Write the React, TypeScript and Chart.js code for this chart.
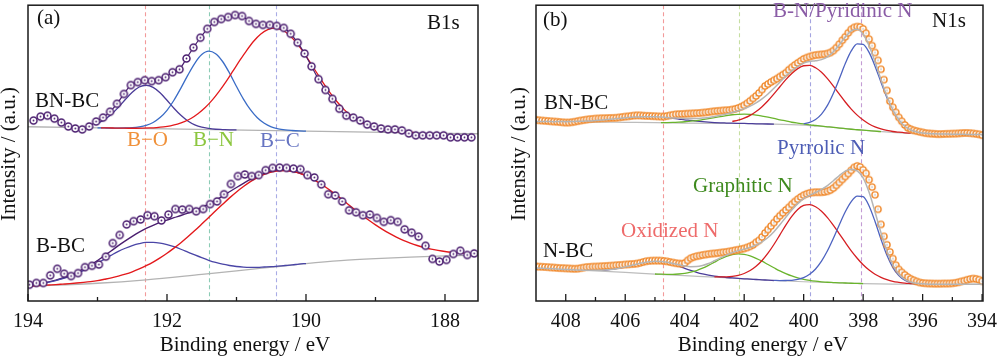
import React, { useEffect, useRef } from "react";
import { Chart, registerables } from "chart.js";

Chart.register(...registerables);

// ================= Panel (a): B1s =================
// BN-BC measured points (energies 0.1 eV apart, starting at aBnbcStart)
const aBnbcStart = 193.92;
const aBnbcStep = 0.1;
const aBnbcCounts = [183, 187, 188, 185, 181, 177, 175, 174, 177, 182, 186, 192, 200, 210, 219, 222, 224, 223, 224, 227, 232, 235, 246, 257, 267, 276, 283, 286, 288, 290, 289, 284, 281, 280, 280, 279, 277, 271, 262, 251, 238, 225, 214, 205, 195, 188, 186, 183, 179, 177, 175, 174, 174, 173, 170, 168, 168, 168, 168, 168, 166, 166, 166, 166];
const aBnbcBaseE = [194, 192, 190, 188, 187.5];
const aBnbcBaseI = [176.7, 174.5, 172.3, 170.1, 169.6];
const aBnbcBOStart = 193.0;
const aBnbcBO = [180.2, 183.9, 189.4, 196.4, 204.3, 211.7, 217.0, 218.8, 216.7, 211.2, 203.6, 195.5, 188.3, 182.6, 178.7, 176.3, 175.0, 174.2, 173.9, 173.6, 173.5];
const aBnbcBNStart = 193.0;
const aBnbcBN = [175.6, 175.5, 175.4, 175.4, 175.5, 175.8, 176.6, 178.1, 181.0, 186.0, 193.4, 203.6, 215.9, 229.1, 241.1, 249.9, 253.4, 250.8, 242.9, 231.1, 217.6, 204.8, 194.0, 185.8, 180.2, 176.6, 174.6, 173.5, 172.9, 172.5, 172.3];
const aBnbcBCStart = 192.95;
const aBnbcBC = [175.5, 175.5, 175.4, 175.3, 175.2, 175.2, 175.3, 175.5, 175.9, 176.6, 177.7, 179.4, 181.9, 185.4, 190.2, 196.2, 203.7, 212.6, 222.5, 233.3, 244.2, 254.5, 263.7, 270.8, 275.3, 276.8, 275.1, 270.4, 263.1, 253.7, 243.1, 232.0, 221.0, 210.9, 201.8, 194.1, 187.8, 182.8, 179.1, 176.4, 174.5, 173.1, 172.2, 171.6, 171.2, 170.9];

// B-BC measured points
const aBbcStart = 193.98;
const aBbcStep = 0.1;
const aBbcCounts = [16.5, 18.3, 18.3, 26, 32.7, 27.7, 25.3, 28.3, 34.3, 35.7, 37, 45, 58.7, 67, 77.7, 81, 82.7, 87, 86, 81.7, 87.7, 93.3, 92.7, 93.3, 91, 93.3, 98.3, 101, 108.3, 118.7, 126.7, 128.3, 126.7, 127.7, 132.7, 135, 135.3, 135, 134.3, 133.7, 127.7, 125.3, 118.3, 108.3, 107, 101, 92, 90, 87, 87.7, 84.3, 80.3, 82, 80.3, 72.7, 69.3, 65.3, 56, 42.7, 40, 41.7, 47.7, 51, 46.7, 48.3];
const aBbcBaseE = [194, 193, 192.3, 191.5, 191, 190.4, 190, 189.5, 189, 188.5, 188, 187.5];
const aBbcBaseI = [15, 18, 21.5, 27, 30.5, 35, 38, 41, 43, 44.5, 45.7, 46.6];
const aBbcEnvStart = 194.0;
const aBbcEnv = [16.1, 17.0, 18.0, 19.4, 21.1, 23.3, 25.8, 28.9, 32.5, 36.6, 41.1, 46.0, 51.0, 56.1, 60.9, 65.5, 69.8, 73.6, 76.8, 79.7, 82.1, 84.5, 86.7, 89.1, 91.8, 94.9, 98.3, 102.2, 106.3, 110.8, 115.1, 119.3, 123.3, 126.7, 129.5, 131.3, 132.4, 132.5, 131.6, 129.9, 127.1];
const aBbcBOStart = 194.0;
const aBbcBO = [16.0, 16.8, 17.8, 19.1, 20.7, 22.7, 25.0, 27.8, 31.0, 34.6, 38.4, 42.5, 46.5, 50.3, 53.5, 56.2, 58.2, 59.4, 59.5, 58.8, 57.2, 55.1, 52.5, 49.6, 46.7, 43.9, 41.3, 39.1, 37.3, 36.0, 35.0, 34.4, 34.2, 34.2, 34.5, 34.8, 35.4, 36.0, 36.6, 37.4, 38.0];
const aBbcBCStart = 194.0;
const aBbcBC = [15.1, 15.5, 15.8, 16.2, 16.6, 17.1, 17.6, 18.2, 18.9, 19.7, 20.7, 22.0, 23.4, 25.2, 27.2, 29.6, 32.5, 35.8, 39.5, 43.8, 48.4, 53.6, 59.1, 65.1, 71.4, 78.0, 84.7, 91.5, 98.1, 104.6, 110.6, 116.1, 121.1, 125.2, 128.5, 130.7, 132.0, 132.3, 131.5, 129.8, 127.1, 123.5, 119.3, 114.6, 109.4, 104.1, 98.4, 92.8, 87.3, 82.1, 77.2, 72.7, 68.5, 64.8, 61.5, 58.7, 56.3, 54.3, 52.6, 51.3, 50.2, 49.4, 48.8, 48.3, 48.0];

const aTicksMajor = [194, 192, 190, 188];
const aTicksMinor = [193, 191, 189];
const aMarkerE = [192.32, 191.4, 190.43];

// ================= Panel (b): N1s =================
const bStart = 409.0;
const bStep = 0.1;
const bBnbcCounts = [183.7, 183.3, 183.0, 182.8, 182.5, 182.3, 182.0, 181.8, 181.5, 181.2, 181.0, 181.0, 181.3, 181.8, 182.4, 183.0, 183.5, 184.0, 184.4, 184.7, 185.0, 185.1, 185.3, 185.4, 185.5, 185.6, 185.7, 185.8, 186.2, 186.6, 187.0, 187.3, 187.7, 188.1, 188.3, 188.2, 188.0, 187.8, 187.7, 187.5, 187.4, 187.2, 187.1, 187.1, 187.5, 188.2, 188.8, 189.3, 189.5, 189.6, 189.8, 190.0, 190.1, 190.3, 190.5, 190.7, 191.0, 191.3, 191.7, 192.1, 192.5, 192.8, 193.0, 193.3, 193.5, 193.7, 194.2, 194.8, 195.8, 197.0, 198.5, 200.5, 203.0, 205.5, 208.0, 211.0, 214.5, 218.0, 220.0, 222.0, 223.8, 225.5, 227.5, 229.5, 231.5, 234.5, 237.0, 239.3, 241.5, 243.5, 245.5, 246.8, 247.8, 248.8, 249.4, 249.8, 250.1, 250.3, 251.0, 252.0, 254.0, 257.0, 260.5, 264.5, 268.0, 272.0, 275.5, 277.5, 278.3, 278.0, 276.0, 271.5, 265.5, 259.0, 252.0, 244.0, 235.0, 224.5, 213.5, 202.7, 196.5, 191.3, 186.2, 182.3, 178.5, 175.7, 174.2, 173.1, 172.3, 171.6, 171.0, 170.3, 170.0, 169.7, 169.5, 169.3, 169.3, 169.4, 169.5, 169.6, 169.7, 169.8, 170.0, 170.2, 170.4, 170.4, 170.2, 169.9, 169.5, 169.0, 168.2];
const bNbcCounts = [35.0, 34.8, 34.7, 34.5, 34.3, 34.1, 33.9, 33.6, 33.4, 33.3, 33.1, 33.0, 32.8, 32.7, 32.8, 33.3, 33.9, 34.4, 34.6, 34.8, 34.9, 35.0, 35.2, 35.4, 35.6, 35.8, 36.0, 36.3, 36.5, 36.7, 37.0, 37.2, 37.4, 37.6, 38.0, 38.7, 39.5, 40.3, 40.7, 40.9, 41.0, 41.0, 40.9, 40.6, 40.2, 39.6, 39.0, 38.4, 38.0, 37.8, 38.5, 41.2, 43.3, 44.5, 45.4, 46.0, 46.6, 47.1, 47.6, 48.0, 48.3, 48.6, 49.0, 49.4, 49.8, 50.3, 50.9, 51.5, 52.0, 52.6, 53.3, 54.3, 55.5, 57.0, 59.5, 61.5, 65.0, 69.0, 72.5, 76.0, 79.5, 83.3, 86.5, 89.5, 92.3, 95.0, 98.0, 100.8, 103.3, 105.5, 107.3, 108.7, 109.6, 110.1, 110.3, 110.3, 110.3, 110.6, 111.3, 112.5, 114.5, 117.3, 120.3, 123.3, 126.3, 129.3, 132.5, 135.5, 137.0, 136.0, 133.0, 129.5, 123.0, 115.5, 107.7, 93.0, 77.7, 65.5, 57.0, 49.8, 43.0, 36.3, 32.0, 29.0, 26.5, 24.2, 22.5, 21.0, 19.8, 18.8, 18.2, 18.0, 17.8, 17.7, 17.6, 17.6, 17.6, 17.7, 17.7, 17.8, 18.0, 18.4, 19.0, 19.8, 20.6, 21.5, 22.3, 22.7, 22.4, 21.6, 20.0];

const bFitStep = 0.2;
// BN-BC fit
const bTopBaseE = [409, 408, 407, 406, 405, 404, 403, 402, 401, 400, 399.5, 399, 398.5, 398, 397.5, 397, 396.5, 396, 395, 394];
const bTopBaseI = [182.0, 181.7, 181.5, 181.2, 180.9, 180.5, 180.2, 180.0, 179.4, 178.3, 177.3, 176.0, 174.5, 173.2, 172.0, 171.0, 170.2, 169.7, 169.2, 168.8];
const bTopOxStart = 408.6;
const bTopOx = [181.9, 181.9, 181.9, 181.9, 182.1, 182.2, 182.4, 182.6, 183.1, 183.5, 184.1, 184.6, 185.2, 185.8, 186.3, 186.6, 186.9, 186.9, 186.8, 186.4, 185.9, 185.2, 184.6, 183.8, 183.2, 182.5, 181.9, 181.4, 181.0, 180.7, 180.5, 180.3, 180.2, 180.1, 179.9, 179.7, 179.6, 179.5, 179.4];
const bTopGrStart = 404.8;
const bTopGr = [181.0, 181.0, 181.1, 181.4, 181.8, 182.4, 183.0, 183.9, 184.9, 186.0, 187.0, 188.0, 188.9, 189.3, 189.5, 189.2, 188.5, 187.5, 186.4, 185.2, 183.8, 182.6, 181.3, 180.4, 179.6, 178.7, 178.0, 177.3, 176.7, 176.1, 175.4, 174.8, 174.2, 173.7, 173.2, 172.7, 172.2, 171.8];
const bTopRedStart = 402.4;
const bTopRed = [182.2, 183.4, 185.5, 188.3, 192.1, 197.1, 203.1, 210.0, 217.3, 224.5, 230.8, 235.7, 238.6, 238.9, 236.5, 231.9, 225.5, 217.9, 209.8, 201.8, 194.6, 188.5, 183.5, 179.5, 176.6, 174.5, 173.0, 171.9, 171.2, 170.6, 170.2];
const bTopBlueStart = 400.0;
const bTopBlue = [179.7, 181.1, 184.1, 189.6, 198.4, 210.7, 225.5, 240.8, 253.6, 260.7, 260.2, 252.1, 238.2, 221.9, 206.1, 192.9, 183.3, 177.0, 173.3, 171.3, 170.3];
const bTopEnvStart = 409.0;
const bTopEnv = [182.0, 182.0, 182.0, 181.9, 182.0, 181.9, 182.1, 182.2, 182.4, 182.6, 183.1, 183.5, 184.1, 184.6, 185.2, 185.8, 186.3, 186.6, 186.9, 186.9, 186.9, 186.6, 186.2, 185.7, 185.4, 185.1, 185.1, 185.1, 185.5, 186.0, 187.1, 188.3, 189.6, 191.2, 192.9, 195.1, 197.6, 200.9, 205.0, 210.0, 215.8, 221.9, 228.1, 233.4, 237.6, 241.3, 242.9, 243.6, 244.8, 247.6, 252.7, 259.9, 267.8, 274.0, 275.5, 270.5, 258.9, 242.6, 224.6, 207.7, 193.8, 183.8, 177.2, 173.4, 171.3, 170.3, 169.8, 169.5, 169.4, 169.3, 169.2, 169.1, 169.0, 168.9, 168.9, 168.8];
// N-BC fit
const bBotBaseE = [409, 408, 407, 406, 405, 404, 403, 402, 401, 400, 399, 398, 397, 396, 395, 394];
const bBotBaseI = [33.5, 32.0, 30.5, 29.0, 27.3, 25.7, 24.2, 22.5, 20.8, 19.5, 18.5, 17.7, 17.2, 17.0, 17.0, 17.0];
const bBotOxStart = 408.0;
const bBotOx = [32.0, 31.7, 31.5, 31.3, 31.1, 31.1, 31.3, 31.7, 32.3, 33.3, 34.6, 36.1, 37.6, 38.9, 39.8, 40.2, 39.9, 38.9, 37.2, 35.3, 33.1, 31.0, 29.1, 27.5, 26.3, 25.3, 24.5, 23.8, 23.4, 22.9, 22.5, 22.2, 21.8, 21.5, 21.1, 20.8];
const bBotGrStart = 405.0;
const bBotGr = [27.4, 27.2, 27.1, 27.1, 27.4, 28.0, 29.2, 30.9, 33.3, 36.2, 39.4, 42.6, 45.2, 47.1, 47.8, 47.2, 45.7, 43.3, 40.4, 37.0, 33.7, 30.5, 27.8, 25.4, 23.5, 22.0, 20.9, 20.1, 19.5, 19.0, 18.7, 18.4, 18.25, 18.0, 17.9, 17.7];
const bBotRedStart = 403.0;
const bBotRed = [24.5, 24.4, 24.5, 25.0, 26.0, 27.9, 30.9, 35.2, 41.1, 48.5, 57.3, 67.1, 77.0, 85.9, 92.9, 97.0, 97.8, 95.6, 91.1, 84.6, 76.7, 68.1, 59.4, 50.9, 43.4, 36.8, 31.4, 27.2, 24.0, 21.6, 19.9, 18.9, 18.1, 17.7, 17.3, 17.2];
const bBotBlueStart = 401.0;
const bBotBlue = [20.9, 20.7, 20.8, 21.0, 22.0, 23.8, 27.1, 32.5, 40.4, 50.9, 63.6, 77.4, 90.5, 100.8, 106.4, 105.8, 96.4, 80.6, 62.6, 46.3, 33.8, 25.7, 21.0, 18.7, 17.6, 17.2, 17.1];
const bBotEnvStart = 409.0;
const bBotEnv = [33.5, 33.2, 32.9, 32.6, 32.3, 32.0, 31.7, 31.5, 31.3, 31.1, 31.1, 31.3, 31.7, 32.3, 33.3, 34.6, 36.1, 37.6, 38.9, 39.8, 40.3, 40.1, 39.3, 38.0, 36.7, 35.4, 34.8, 34.9, 36.0, 38.0, 40.8, 43.7, 46.5, 49.1, 51.1, 52.6, 54.4, 56.7, 60.0, 64.4, 70.3, 77.3, 85.0, 92.3, 98.8, 103.8, 107.2, 110.0, 113.2, 117.1, 122.0, 127.3, 131.7, 133.7, 131.9, 124.9, 110.2, 90.3, 69.2, 50.6, 36.5, 27.4, 22.0, 19.3, 17.9, 17.4, 17.1, 17.0, 17.0, 17.0, 17.0, 17.0, 17.0, 17.0, 17.0, 17.0];

const bTicksMajor = [408, 406, 404, 402, 400, 398, 396, 394];
const bTicksMinor = [407, 405, 403, 401, 399, 397, 395];
const bMarkerE = [404.72, 402.16, 399.8, 398.07];

// ================= helpers =================
const SERIF = '"Liberation Serif", "Times New Roman", Times, serif';

const grid = (start: number, step: number, n: number) =>
  Array.from({ length: n }, (_, i) => +(start - step * i).toFixed(3));

const pts = (xs: number[], ys: number[]) => xs.map((x, i) => ({ x, y: ys[i] }));

function ring(size: number, r: number, stroke: string, lw: number, dot: string, dotR: number) {
  const c = document.createElement("canvas");
  c.width = size;
  c.height = size;
  const g = c.getContext("2d")!;
  g.beginPath();
  g.arc(size / 2, size / 2, r, 0, Math.PI * 2);
  g.fillStyle = "#fff";
  g.fill();
  g.lineWidth = lw;
  g.strokeStyle = stroke;
  g.stroke();
  g.beginPath();
  g.arc(size / 2, size / 2, dotR, 0, Math.PI * 2);
  g.fillStyle = dot;
  g.fill();
  return c;
}

function curve(xs: number[], ys: number[], color: string, width: number, order: number) {
  return {
    data: pts(xs, ys),
    borderColor: color,
    borderWidth: width,
    pointRadius: 0,
    pointHoverRadius: 0,
    fill: false,
    cubicInterpolationMode: "monotone",
    order,
  };
}

function marks(xs: number[], ys: number[], img: any, lineColor: string | null, order: number) {
  return {
    data: pts(xs, ys),
    showLine: !!lineColor,
    borderColor: lineColor || "rgba(0,0,0,0)",
    borderWidth: 1.2,
    pointStyle: img,
    pointRadius: 4,
    pointHoverRadius: 4,
    cubicInterpolationMode: "monotone",
    fill: false,
    order,
  };
}

type Txt = { text: string; x: number; y: number; color: string };
type Decor = {
  majors: number[];
  minors: number[];
  markers: { e: number; color: string }[];
  texts: Txt[];
  xTitleX: number;
  yTitleX: number;
};

function decor(d: Decor) {
  return {
    id: "decor",
    beforeDatasetsDraw(chart: any) {
      const { ctx, chartArea: a, scales } = chart;
      ctx.save();
      ctx.lineWidth = 1.1;
      ctx.setLineDash([4, 3]);
      for (const m of d.markers) {
        const px = Math.round(scales.x.getPixelForValue(m.e)) + 0.5;
        ctx.strokeStyle = m.color;
        ctx.beginPath();
        ctx.moveTo(px, a.top);
        ctx.lineTo(px, a.bottom);
        ctx.stroke();
      }
      ctx.restore();
    },
    afterDraw(chart: any) {
      const { ctx, chartArea: a, scales } = chart;
      const x = scales.x;
      ctx.save();
      ctx.setLineDash([]);
      ctx.strokeStyle = "#1a1a1a";
      ctx.lineWidth = 1.5;
      ctx.strokeRect(a.left, a.top, a.right - a.left, a.bottom - a.top);
      ctx.lineWidth = 1.3;
      for (const t of d.majors) {
        const px = x.getPixelForValue(t);
        ctx.beginPath();
        ctx.moveTo(px, a.bottom);
        ctx.lineTo(px, a.bottom - 7);
        ctx.stroke();
      }
      for (const t of d.minors) {
        const px = x.getPixelForValue(t);
        ctx.beginPath();
        ctx.moveTo(px, a.bottom);
        ctx.lineTo(px, a.bottom - 4);
        ctx.stroke();
      }
      ctx.fillStyle = "#111";
      ctx.textAlign = "center";
      ctx.textBaseline = "alphabetic";
      ctx.font = `20px ${SERIF}`;
      for (const t of d.majors) ctx.fillText(String(t), x.getPixelForValue(t), 327);
      ctx.font = `21px ${SERIF}`;
      ctx.fillText("Binding energy / eV", d.xTitleX, 351);
      ctx.save();
      ctx.translate(d.yTitleX, 154);
      ctx.rotate(-Math.PI / 2);
      ctx.fillText("Intensity / (a.u.)", 0, 0);
      ctx.restore();
      ctx.textAlign = "left";
      for (const t of d.texts) {
        ctx.fillStyle = t.color;
        ctx.fillText(t.text, t.x, t.y);
      }
      ctx.restore();
    },
  };
}

function baseOptions(min: number, max: number, padding: any) {
  return {
    responsive: false,
    animation: false,
    events: [],
    layout: { padding },
    plugins: { legend: { display: false }, tooltip: { enabled: false } },
    scales: {
      x: { type: "linear", reverse: true, min, max, display: false },
      y: { type: "linear", min: 0, max: 300, display: false },
    },
  };
}

export default function App() {
  const refA = useRef<HTMLCanvasElement>(null);
  const refB = useRef<HTMLCanvasElement>(null);

  useEffect(() => {
    const purple = "#4b1f70";
    const ringA = ring(11, 3.5, purple, 1.5, purple, 0.9);
    const ringB = ring(10, 3.1, "#f0882a", 1.4, "#b0b0b0", 0.8);

    const chartA = new Chart(refA.current!, {
      type: "line",
      data: {
        datasets: [
          marks(grid(aBnbcStart, aBnbcStep, aBnbcCounts.length), aBnbcCounts, ringA, purple, 0),
          marks(grid(aBbcStart, aBbcStep, aBbcCounts.length), aBbcCounts, ringA, null, 0),
          curve(grid(aBnbcBCStart, 0.1, aBnbcBC.length), aBnbcBC, "#e3191c", 1.3, 1),
          curve(grid(aBnbcBNStart, 0.1, aBnbcBN.length), aBnbcBN, "#3a6cc6", 1.3, 1),
          curve(grid(aBnbcBOStart, 0.1, aBnbcBO.length), aBnbcBO, "#4b3b98", 1.3, 1),
          curve(grid(aBbcBCStart, 0.1, aBbcBC.length), aBbcBC, "#e3191c", 1.4, 1),
          curve(grid(aBbcBOStart, 0.1, aBbcBO.length), aBbcBO, "#4a45a6", 1.3, 1),
          curve(grid(aBbcEnvStart, 0.1, aBbcEnv.length), aBbcEnv, purple, 1.4, 2),
          curve(aBnbcBaseE, aBnbcBaseI, "#b3b3b3", 1.3, 3),
          curve(aBbcBaseE, aBbcBaseI, "#b3b3b3", 1.3, 3),
        ],
      } as any,
      options: baseOptions(187.525, 194, { left: 28, right: 22, top: 1, bottom: 55 }) as any,
      plugins: [
        decor({
          majors: aTicksMajor,
          minors: aTicksMinor,
          markers: [
            { e: aMarkerE[0], color: "#f29a9a" },
            { e: aMarkerE[1], color: "#8ccbb5" },
            { e: aMarkerE[2], color: "#a9ace6" },
          ],
          texts: [
            { text: "(a)", x: 37, y: 24, color: "#111" },
            { text: "B1s", x: 427, y: 29, color: "#111" },
            { text: "BN-BC", x: 35, y: 107, color: "#111" },
            { text: "B\u2212O", x: 127, y: 146, color: "#f0913a" },
            { text: "B\u2212N", x: 193, y: 146, color: "#8cc63f" },
            { text: "B\u2212C", x: 260, y: 147, color: "#6674c2" },
            { text: "B-BC", x: 36, y: 252, color: "#111" },
          ],
          xTitleX: 245,
          yTitleX: 14.5,
        }),
      ],
    });

    const bX = grid(bStart, bStep, bBnbcCounts.length);
    const chartB = new Chart(refB.current!, {
      type: "line",
      data: {
        datasets: [
          curve(grid(bTopEnvStart, bFitStep, bTopEnv.length), bTopEnv, "#b5b5b5", 1.5, 0),
          curve(grid(bBotEnvStart, bFitStep, bBotEnv.length), bBotEnv, "#b5b5b5", 1.5, 0),
          marks(bX, bBnbcCounts, ringB, null, 1),
          marks(bX, bNbcCounts, ringB, null, 1),
          curve(grid(bTopBlueStart, bFitStep, bTopBlue.length), bTopBlue, "#4d63c0", 1.3, 2),
          curve(grid(bTopRedStart, bFitStep, bTopRed.length), bTopRed, "#d61e22", 1.3, 2),
          curve(grid(bTopGrStart, bFitStep, bTopGr.length), bTopGr, "#6ab42d", 1.3, 2),
          curve(grid(bTopOxStart, bFitStep, bTopOx.length), bTopOx, "#4b3d9a", 1.3, 2),
          curve(grid(bBotBlueStart, bFitStep, bBotBlue.length), bBotBlue, "#4d63c0", 1.3, 2),
          curve(grid(bBotRedStart, bFitStep, bBotRed.length), bBotRed, "#d61e22", 1.3, 2),
          curve(grid(bBotGrStart, bFitStep, bBotGr.length), bBotGr, "#6ab42d", 1.3, 2),
          curve(grid(bBotOxStart, bFitStep, bBotOx.length), bBotOx, "#4b3d9a", 1.3, 2),
          curve(bTopBaseE, bTopBaseI, "#bdbdbd", 1.2, 3),
          curve(bBotBaseE, bBotBaseI, "#bdbdbd", 1.2, 3),
        ],
      } as any,
      options: baseOptions(393.97, 409.0, { left: 36, right: 17, top: 1, bottom: 55 }) as any,
      plugins: [
        decor({
          majors: bTicksMajor,
          minors: bTicksMinor,
          markers: [
            { e: bMarkerE[0], color: "#f29a9a" },
            { e: bMarkerE[1], color: "#c6dea2" },
            { e: bMarkerE[2], color: "#a4a4e0" },
            { e: bMarkerE[3], color: "#c39cd4" },
          ],
          texts: [
            { text: "(b)", x: 43, y: 26, color: "#111" },
            { text: "N1s", x: 432, y: 27, color: "#111" },
            { text: "B-N/Pyridinic N", x: 273, y: 17, color: "#8a5ca6" },
            { text: "BN-BC", x: 44, y: 109, color: "#111" },
            { text: "Pyrrolic N", x: 277, y: 154, color: "#4d5db5" },
            { text: "Graphitic N", x: 193, y: 191.5, color: "#3e8a1e" },
            { text: "Oxidized N", x: 121, y: 237, color: "#ee6b6b" },
            { text: "N-BC", x: 43, y: 257, color: "#111" },
          ],
          xTitleX: 263,
          yTitleX: 24.5,
        }),
      ],
    });

    return () => {
      chartA.destroy();
      chartB.destroy();
    };
  }, []);

  return (
    <div style={{ position: "absolute", left: 0, top: 0, width: 1000, height: 356, background: "#fff", overflow: "hidden" }}>
      <canvas ref={refA} width={500} height={356} style={{ position: "absolute", left: 0, top: 0, width: 500, height: 356 }} />
      <canvas ref={refB} width={500} height={356} style={{ position: "absolute", left: 500, top: 0, width: 500, height: 356 }} />
    </div>
  );
}
